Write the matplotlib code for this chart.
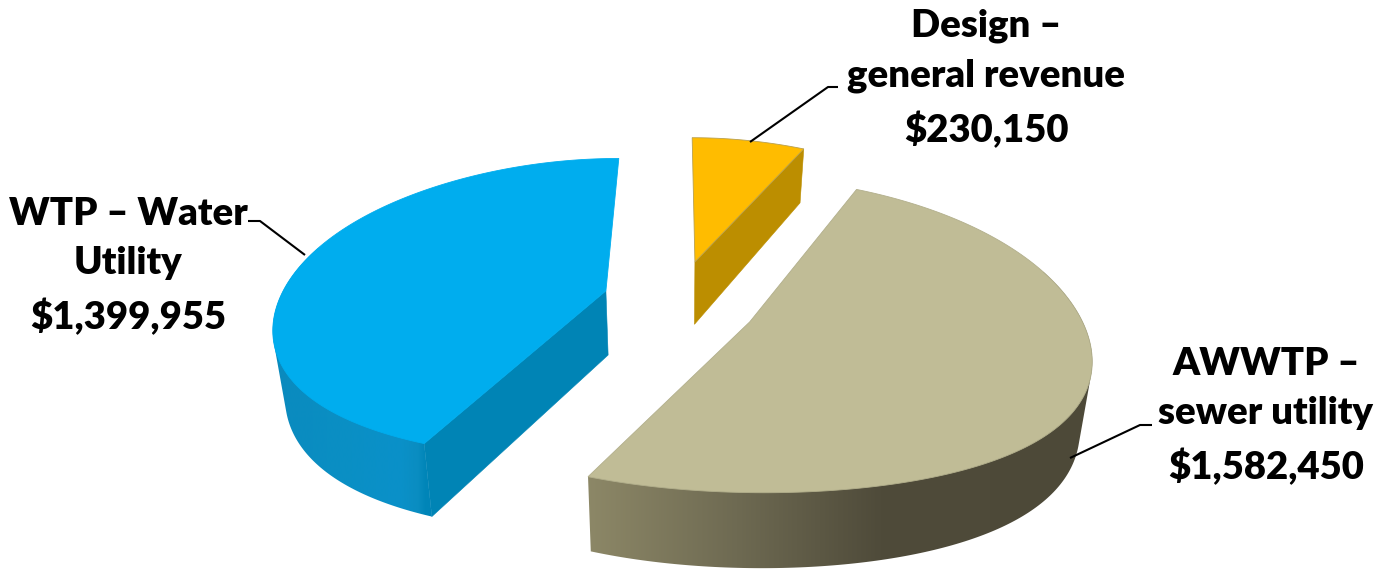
import numpy as np
import matplotlib
matplotlib.use("Agg")
import matplotlib.pyplot as plt
from matplotlib.colors import to_rgb
from matplotlib.patches import Polygon

# Funding split
labels = ["Design –\ngeneral revenue\n$230,150",
          "AWWTP –\nsewer utility\n$1,582,450",
          "WTP – Water\nUtility\n$1,399,955"]
values = [230150, 1582450, 1399955]

# Appearance of each slice
top_colors = ["#FFBC00", "#C0BC96", "#00ADEE"]
cut_colors = ["#BC8E00", "#8E8968", "#0084B5"]
edge_colors = ["#B8A050", "#B2AF8C", "#00ADEE"]
visible_cut = [-1, None, 0]
rim_x = [None, [580, 737, 880, 1100], [260, 340, 400, 418, 426, 445]]
rim_colors = [None,
              ["#8E8968", "#6E6A52", "#4F4B3A", "#4D4938"],
              ["#0A89BC", "#0A8FC4", "#0A91C9", "#0A8DC1", "#0085B8", "#0085B8"]]

# How far each slice is pulled out, its size, and a small shift of its point
offsets = [(0.047, 0.275), (0.183, -0.081), (-0.225, 0.08)]
radii = [0.96, 0.99, 0.98]
hub_shift = [(0, 0), (0.02, -0.04), (0, 0)]

# Pie-on-a-tilt camera, in pixel units
CX, CY = 680, 303
SCALE_X, SCALE_Y, FORE_Y = 345, 154, 0.122
DEPTH, DEPTH_TAPER, BASE_SHRINK = 65, 0.15, 0.97


def width_scale(y):
    y = np.asarray(y, float)
    return SCALE_X * (0.97 - 0.2 * y + 0.08 * y ** 2 - 0.05 * y ** 3)


def project(x, y):
    x, y = np.asarray(x, float), np.asarray(y, float)
    return CX + x * width_scale(y), CY - SCALE_Y * y / (1 + FORE_Y * y)


def drop(u, v, y):
    return CX + (u - CX) * BASE_SHRINK, v + DEPTH * (1 - DEPTH_TAPER * np.asarray(y, float))


def convex_hull(points):
    pts = sorted(map(tuple, points))

    def half(seq):
        out = []
        for p in seq:
            while len(out) > 1 and ((out[-1][0] - out[-2][0]) * (p[1] - out[-2][1])
                                    - (out[-1][1] - out[-2][1]) * (p[0] - out[-2][0])) <= 0:
                out.pop()
            out.append(p)
        return out[:-1]

    return np.array(half(pts) + half(pts[::-1]))


fig = plt.figure(figsize=(13.82, 5.76), dpi=100)
ax = fig.add_axes([0, 0, 1, 1])

edges = np.concatenate([[0], np.cumsum(values)]) / np.sum(values) * 360
for i in range(len(values)):
    ox, oy = offsets[i]
    theta = np.linspace(edges[i], edges[i + 1], 241)
    rad = np.radians(theta)
    X, Y = ox + radii[i] * np.sin(rad), oy + radii[i] * np.cos(rad)
    u, v = project(X, Y)
    ub, vb = drop(u, v, Y)
    hx, hy = ox + hub_shift[i][0], oy + hub_shift[i][1]
    au, av = project(hx, hy)
    aub, avb = drop(au, av, hy)

    # the one cut face that can be seen from the front
    k = visible_cut[i]
    if k is not None:
        ax.fill([au, u[k], ub[k], aub], [av, v[k], vb[k], avb],
                color=cut_colors[i], lw=0.4, zorder=2)

    # outer rim with a left-to-right shade; the hull gives it straight side walls
    if rim_x[i] is not None:
        front = np.cos(rad) < 0.3
        outline = convex_hull(np.c_[np.r_[u[front], ub[front]], np.r_[v[front], vb[front]]])
        rim = Polygon(outline, closed=True, facecolor="none", edgecolor="none",
                      transform=ax.transData)
        ax.add_patch(rim)
        xs = np.linspace(rim_x[i][0], rim_x[i][-1], 400)
        stops = np.array([to_rgb(c) for c in rim_colors[i]])
        ramp = np.stack([np.interp(xs, rim_x[i], stops[:, c]) for c in range(3)], axis=1)[None, :, :]
        img = ax.imshow(ramp, extent=(xs[0], xs[-1], 576, 0), aspect="auto",
                        interpolation="bilinear", zorder=3)
        img.set_clip_path(rim)

    # top face
    ax.fill(np.r_[au, u], np.r_[av, v], facecolor=top_colors[i],
            edgecolor=edge_colors[i], lw=0.6, zorder=4)

ax.set_xlim(0, 1382)
ax.set_ylim(576, 0)
ax.axis("off")

# Leader lines and labels
leaders = [([750, 828, 838], [142, 87, 87]),
           ([1070, 1140, 1152], [458, 425, 425]),
           ([305, 260, 248], [255, 221, 221])]
label_xy = [(986, 78), (1266, 416), (128, 266)]
for (lx, ly), (tx, ty), text in zip(leaders, label_xy, labels):
    ax.plot(lx, ly, color="black", lw=1.5, zorder=5, solid_capstyle="butt")
    ax.text(tx, ty, text, ha="center", va="center", multialignment="center",
            family="Lato", weight="heavy", fontsize=27.5, linespacing=1.56, color="black", zorder=6)

fig.savefig("out.png", dpi=100)
